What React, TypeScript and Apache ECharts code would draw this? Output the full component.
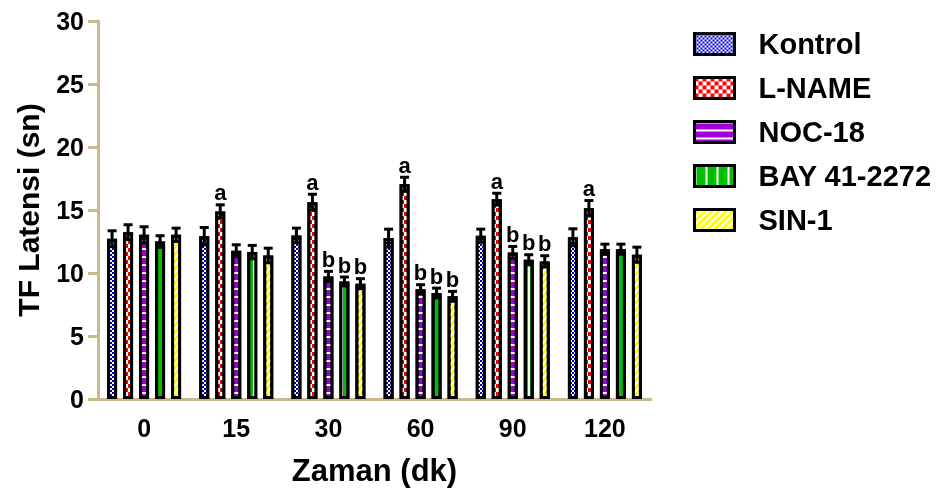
import React, { useEffect, useRef } from 'react';
import * as echarts from 'echarts';

const categories = ['0', '15', '30', '60', '90', '120'];
const seriesNames = ['Kontrol', 'L-NAME', 'NOC-18', 'BAY 41-2272', 'SIN-1'];

const kontrolMean = [12.72, 12.92, 12.98, 12.77, 12.96, 12.84];
const kontrolErr = [0.63, 0.69, 0.58, 0.71, 0.52, 0.67];
const lnameMean = [13.24, 14.88, 15.62, 17.04, 15.86, 15.14];
const lnameErr = [0.59, 0.53, 0.63, 0.56, 0.47, 0.61];
const nocMean = [13.03, 11.77, 9.73, 8.72, 11.63, 11.89];
const nocErr = [0.64, 0.47, 0.4, 0.35, 0.48, 0.4];
const bayMean = [12.5, 11.66, 9.33, 8.41, 11.05, 11.89];
const bayErr = [0.46, 0.53, 0.35, 0.39, 0.4, 0.4];
const sinMean = [13.03, 11.39, 9.15, 8.15, 10.92, 11.45];
const sinErr = [0.53, 0.58, 0.4, 0.39, 0.45, 0.6];

const kontrolSig = ['', '', '', '', '', ''];
const lnameSig = ['', 'a', 'a', 'a', 'a', 'a'];
const nocSig = ['', '', 'b', 'b', 'b', ''];
const baySig = ['', '', 'b', 'b', 'b', ''];
const sinSig = ['', '', 'b', 'b', 'b', ''];

const yTicks = [0, 5, 10, 15, 20, 25, 30];

const FONT = '"Liberation Sans", Arial, Helvetica, sans-serif';
const AXIS = '#c8ba8c';

export default function App() {
  const ref = useRef<HTMLDivElement>(null);
  useEffect(() => {
    if (!ref.current) return;
    const chart = echarts.init(ref.current, null, { renderer: 'svg' });
    const means = [kontrolMean, lnameMean, nocMean, bayMean, sinMean];
    const errs = [kontrolErr, lnameErr, nocErr, bayErr, sinErr];
    const sigs = [kontrolSig, lnameSig, nocSig, baySig, sinSig];
    const colors = ['#0000cc', '#ff0000', '#9e00d6', '#00bf00', '#ffff00'];
    const decals: any[] = [
      { symbol: 'rect', symbolSize: 1, symbolKeepAspect: false, color: '#ffffff', dashArrayX: [[2, 2], [0, 2, 2, 0]], dashArrayY: [2, 0] },
      { symbol: 'rect', symbolSize: 1, symbolKeepAspect: false, color: '#ffffff', dashArrayX: [[3.5, 3.5], [0, 3.5, 3.5, 0]], dashArrayY: [3.5, 0] },
      { symbol: 'rect', symbolSize: 1, symbolKeepAspect: false, color: '#ffffff', dashArrayX: [10, 0], dashArrayY: [1.2, 6] },
      { symbol: 'rect', symbolSize: 1, symbolKeepAspect: false, color: '#ffffff', dashArrayX: [1.5, 8.5], dashArrayY: [10, 0] },
      { symbol: 'rect', symbolSize: 1, symbolKeepAspect: false, color: '#ffffff', dashArrayX: [10, 0], dashArrayY: [1.5, 3], rotation: -Math.PI / 4 },
    ];

    const barSeries = seriesNames.map((name, i) => ({
      name,
      type: 'bar',
      data: means[i],
      barWidth: 10,
      barGap: '60%',
      itemStyle: {
        color: colors[i],
        borderColor: '#000000',
        borderWidth: 3,
        decal: decals[i],
      },
      z: 2,
    }));

    const errData: number[][] = [];
    const errLabels: string[] = [];
    for (let s = 0; s < seriesNames.length; s++) {
      for (let c = 0; c < categories.length; c++) {
        errData.push([c, s, means[s][c], errs[s][c]]);
        errLabels.push(sigs[s][c]);
      }
    }

    const option: any = {
      animation: false,
      aria: { enabled: false, decal: { show: false } },
      grid: { left: 98, right: 294, top: 21, bottom: 96 },
      legend: {
        orient: 'vertical',
        left: 693,
        top: 29,
        padding: 0,
        icon: 'rect',
        itemWidth: 40,
        itemHeight: 21,
        itemGap: 14,
        data: seriesNames,
        itemStyle: { borderColor: '#000', borderWidth: 3 },
        textStyle: {
          fontFamily: FONT,
          fontWeight: 'bold',
          fontSize: 29,
          color: '#000',
          lineHeight: 30,
          padding: [0, 0, 0, 19],
        },
      },
      xAxis: {
        type: 'category',
        data: categories,
        name: 'Zaman (dk)',
        nameLocation: 'middle',
        nameGap: 56,
        nameTextStyle: { fontFamily: FONT, fontWeight: 'bold', fontSize: 31, color: '#000' },
        axisLine: { lineStyle: { color: AXIS, width: 3 } },
        axisTick: { alignWithLabel: true, length: 11, lineStyle: { color: AXIS, width: 3 } },
        axisLabel: { margin: 16, fontFamily: FONT, fontWeight: 'bold', fontSize: 25, color: '#000' },
        splitLine: { show: false },
      },
      yAxis: {
        type: 'value',
        min: yTicks[0],
        max: yTicks[yTicks.length - 1],
        interval: 5,
        name: 'TF Latensi (sn)',
        nameLocation: 'middle',
        nameGap: 55,
        nameTextStyle: { fontFamily: FONT, fontWeight: 'bold', fontSize: 30, color: '#000' },
        axisLine: { show: true, lineStyle: { color: AXIS, width: 3 } },
        axisTick: { show: true, length: 10, lineStyle: { color: AXIS, width: 3 } },
        axisLabel: { margin: 14, fontFamily: FONT, fontWeight: 'bold', fontSize: 25, color: '#000' },
        splitLine: { show: false },
      },
      series: [
        ...barSeries,
        {
          type: 'custom',
          name: 'errors',
          data: errData,
          encode: { x: 0, y: 2 },
          z: 5,
          silent: true,
          renderItem: (params: any, api: any) => {
            const cat = api.value(0);
            const si = api.value(1);
            const mean = api.value(2);
            const err = api.value(3);
            const base = api.coord([cat, mean]);
            const x = base[0] + (si - 2) * 16;
            const yTop = api.coord([cat, mean + err])[1];
            const yBot = api.coord([cat, mean - err])[1];
            const st = { stroke: '#000', lineWidth: 3 };
            const children: any[] = [
              { type: 'line', shape: { x1: x, y1: yTop, x2: x, y2: yBot }, style: st },
              { type: 'line', shape: { x1: x - 4.5, y1: yTop, x2: x + 4.5, y2: yTop }, style: st },
              { type: 'line', shape: { x1: x - 4.5, y1: yBot, x2: x + 4.5, y2: yBot }, style: st },
            ];
            const label = errLabels[params.dataIndex];
            if (label) {
              children.push({
                type: 'text',
                x,
                y: yTop - 1,
                style: {
                  text: label,
                  fill: '#000',
                  fontFamily: FONT,
                  fontWeight: 'bold',
                  fontSize: 22,
                  align: 'center',
                  verticalAlign: 'bottom',
                },
              });
            }
            return { type: 'group', children };
          },
        },
      ],
    };
    chart.setOption(option);
    return () => chart.dispose();
  }, []);
  return <div ref={ref} style={{ position: 'fixed', left: 0, top: 0, width: 945, height: 495 }} />;
}
